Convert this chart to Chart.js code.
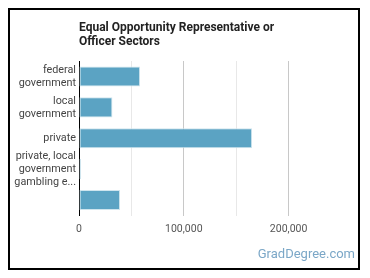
<!DOCTYPE html>
<html lang="en">
<head>
    <meta charset="UTF-8">
    <title>Equal Opportunity Representative or Officer Sectors</title>
    <script src="https://cdn.jsdelivr.net/npm/chart.js"></script>
    <style>
        body {
            margin: 0;
            width: 370px;
            height: 278px;
            background: #fff;
            position: relative;
            font-family: Roboto, Arial, sans-serif;
        }
        .frame {
            position: absolute;
            left: 8px;
            top: 8px;
            width: 352px;
            height: 262px;
            box-sizing: border-box;
            border: 2px solid #000;
        }
        #chart {
            position: absolute;
            left: 0;
            top: 0;
        }
    </style>
</head>
<body>
    <div class="frame"></div>
    <canvas id="chart" width="370" height="278"></canvas>

    <script>
        // data
        const sectors = [
            ['federal', 'government'],
            ['local', 'government'],
            'private',
            ['private, local', 'government', 'gambling e...'],
            ''
        ];
        const workers = [58300, 31900, 165200, 2000, 39200];
        const tickLabels = ['0', '100,000', '200,000'];
        const titleLines = ['Equal Opportunity Representative or', 'Officer Sectors'];

        // title and watermark drawn on the canvas
        const extras = {
            id: 'extras',
            afterDraw: chart => {
                const ctx = chart.ctx;
                const left = chart.chartArea.left;
                ctx.save();
                ctx.fillStyle = '#222';
                ctx.font = 'bold 12px Roboto';
                ctx.textBaseline = 'middle';
                ctx.textAlign = 'left';
                ctx.fillText(titleLines[0], left, 28);
                ctx.fillText(titleLines[1], left, 42);

                ctx.fillStyle = '#7ba7c7';
                ctx.font = '13px Roboto';
                ctx.textAlign = 'right';
                ctx.fillText('GradDegree.com', 355, 255);
                ctx.restore();
            }
        };

        new Chart(document.getElementById('chart'), {
            type: 'bar',
            data: {
                labels: sectors,
                datasets: [{
                    data: workers,
                    backgroundColor: '#5ba3c3',
                    borderColor: '#cfe5ee',
                    borderWidth: 1,
                    borderSkipped: false,
                    categoryPercentage: 0.65,
                    barPercentage: 1
                }]
            },
            options: {
                indexAxis: 'y',
                responsive: false,
                animation: false,
                events: [],
                layout: {
                    padding: { left: 0, top: 61, right: 29, bottom: 0 }
                },
                plugins: {
                    legend: { display: false },
                    title: { display: false },
                    tooltip: { enabled: false }
                },
                scales: {
                    x: {
                        min: 0,
                        max: 250000,
                        afterFit: s => { s.height = 62.5; },
                        border: { display: false },
                        grid: {
                            drawTicks: false,
                            color: c => {
                                const v = c.tick.value;
                                if (v === 100000 || v === 200000) return '#c8c8c8';
                                if (v === 50000 || v === 150000) return '#e8e8e8';
                                return 'rgba(0,0,0,0)';
                            }
                        },
                        ticks: {
                            stepSize: 50000,
                            padding: 8,
                            autoSkip: false,
                            color: '#555',
                            font: { family: 'Roboto', size: 10.5 },
                            maxRotation: 0,
                            callback: v => {
                                const i = [0, 100000, 200000].indexOf(v);
                                return i >= 0 ? tickLabels[i] : '';
                            }
                        }
                    },
                    y: {
                        afterFit: s => { s.width = 79; },
                        border: { color: '#000', width: 1 },
                        grid: { display: false, drawTicks: false },
                        ticks: {
                            padding: 3,
                            autoSkip: false,
                            color: '#444',
                            font: { family: 'Roboto', size: 10.8, lineHeight: 1.2 }
                        }
                    }
                }
            },
            plugins: [extras]
        });
    </script>
</body>
</html>
